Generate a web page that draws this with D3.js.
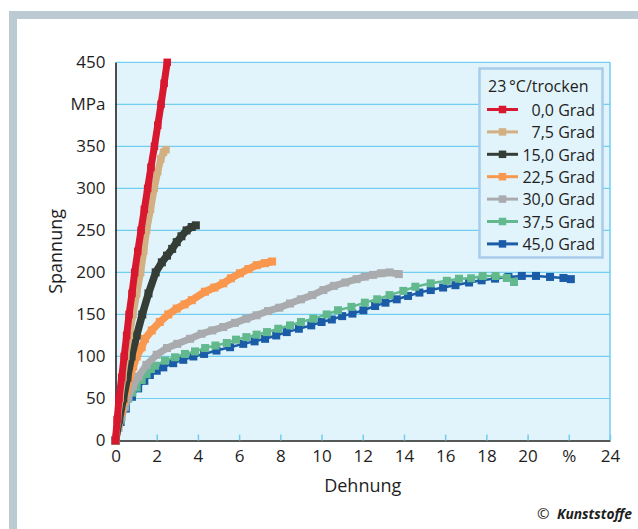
<!DOCTYPE html>
<html>
<head>
<meta charset="utf-8">
<title>Spannung-Dehnung</title>
<script src="https://cdnjs.cloudflare.com/ajax/libs/d3/7.8.5/d3.min.js"></script>
<style>
	body { margin: 0; background: #fff; }
	svg { display: block; font-family: "Open Sans", sans-serif; }
	.tick text { fill: #1e1e1e; font-size: 17px; }
</style>
</head>
<body>
<svg id="chart" width="638" height="529"></svg>
<script>

// Messkurven: [Dehnung %, Spannung MPa]
var grad00 = [[0,0],[0.08,25],[0.17,50],[0.3,75],[0.42,100],[0.54,125],[0.66,150],[0.8,175],[0.93,200],[1.08,225],[1.24,250],[1.4,275],[1.56,300],[1.72,325],[1.89,350],[2.05,375],[2.21,400],[2.36,425],[2.51,450]];
var grad75 = [[0,0],[0.1,25],[0.22,50],[0.36,75],[0.5,100],[0.67,125],[0.85,150],[1.03,175],[1.22,200],[1.37,225],[1.51,250],[1.7,275],[1.88,300],[2.05,320],[2.2,335],[2.33,343],[2.45,346]];
var grad150 = [[0,0],[0.18,25],[0.38,50],[0.58,75],[0.78,100],[1.03,125],[1.3,150],[1.6,175],[1.95,200],[2.25,212],[2.5,220],[2.75,228],[2.97,236],[3.2,243],[3.45,250],[3.7,254],[3.9,256]];
var grad225 = [[0,0],[0.15,20],[0.3,35],[0.42,48],[0.54,60],[0.7,76],[0.86,88],[1.03,100],[1.27,111],[1.43,121],[1.76,131],[2.15,141],[2.56,150],[2.97,157],[3.35,162],[3.7,167],[4.34,177],[4.8,182],[5.23,187],[5.6,193],[6.04,199],[6.45,204],[6.85,208.6],[7.25,211],[7.6,213]];
var grad300 = [[0,0],[0.15,15],[0.3,28],[0.45,40],[0.62,52],[0.85,65],[1.11,76],[1.5,90],[2.0,102],[2.5,110],[3.0,115],[3.62,121],[4.18,127],[4.7,131],[5.23,135],[5.8,140],[6.35,145],[6.85,149],[7.4,154],[7.95,158],[8.47,163],[9.0,168],[9.55,173],[10.09,179],[10.6,184],[11.15,188],[11.7,192],[12.1,195],[12.5,197],[12.9,199],[13.3,200],[13.75,198]];
var grad375 = [[0,0],[0.25,25],[0.45,40],[0.62,50],[0.82,57],[1.03,63],[1.27,72],[1.51,79],[1.72,85],[1.92,89],[2.4,95],[2.89,99],[3.37,103],[3.86,106],[4.35,110],[4.85,113],[5.4,116],[5.85,120],[6.35,123],[6.85,126],[7.35,129],[7.9,133],[8.47,137],[9.0,141],[9.6,145],[10.25,150],[10.8,155],[11.45,159],[12.1,164],[12.7,168],[13.3,173],[13.97,178],[14.55,183],[15.3,187],[16.08,190],[16.67,192.5],[17.26,193],[17.82,195.7],[18.45,195.7],[18.99,193.4],[19.34,188.6]];
var grad450 = [[0,0],[0.25,22],[0.5,38],[0.8,52],[1.1,62],[1.4,71],[1.67,78],[2.0,83],[2.32,87],[2.8,92],[3.29,96],[3.78,100],[4.3,103],[4.9,107],[5.56,111],[6.2,115],[6.75,118],[7.26,121],[7.8,125],[8.31,129],[8.9,133],[9.5,137],[10.0,141],[10.5,144],[11.0,148],[11.5,151],[12.03,155],[12.6,160],[13.1,164],[13.65,168],[14.2,172],[14.75,176],[15.3,179],[15.9,182],[16.5,184.8],[17.16,188],[17.77,190.6],[18.42,192.6],[19.07,194.6],[19.72,195.8],[20.41,195.8],[21.09,194.6],[21.74,193.4],[22.1,192]];

var seriesNames = ["0,0 Grad", "7,5 Grad", "15,0 Grad", "22,5 Grad", "30,0 Grad", "37,5 Grad", "45,0 Grad"];
var seriesData = [grad00, grad75, grad150, grad225, grad300, grad375, grad450];
var legendTitle = "23\u2009°C/trocken";

var xTicks = [0, 2, 4, 6, 8, 10, 12, 14, 16, 18, 20, 22, 24];
var xTickLabels = ["0", "2", "4", "6", "8", "10", "12", "14", "16", "18", "20", "%", "24"];
var yTicks = [0, 50, 100, 150, 200, 250, 300, 350, 400, 450];
var yTickLabels = ["0", "50", "100", "150", "200", "250", "300", "350", "MPa", "450"];

// Darstellung
var colors = ["#d7182e", "#d2b083", "#343e37", "#f9974f", "#a9abae", "#62b98e", "#1b5ca8"];
var lineWidths = [7, 7, 7.5, 7.5, 7, 2.5, 2.5];
var markerSize = [7.5, 7.5, 8, 8, 8, 8, 8];
var gridColor = "#72cdf0";

var svg = d3.select("#chart");

// Rahmen
svg.append("rect").attr("x", 9).attr("y", 11).attr("width", 629).attr("height", 518).attr("fill", "#bccbd3");
svg.append("rect").attr("x", 17).attr("y", 19).attr("width", 621).attr("height", 510).attr("fill", "#fff");

var x = d3.scaleLinear().domain([0, 24]).range([115.5, 610]);
var y = d3.scaleLinear().domain([0, 450]).range([440.5, 62.3]);

svg.append("rect")
	.attr("x", x(0)).attr("y", y(450))
	.attr("width", x(24) - x(0)).attr("height", y(0) - y(450))
	.attr("fill", "#e2f4fb");

svg.append("g").selectAll("line")
	.data(yTicks.filter(function(d) { return d > 0; }))
	.join("line")
	.attr("x1", x(0)).attr("x2", x(24))
	.attr("y1", function(d) { return y(d); }).attr("y2", function(d) { return y(d); })
	.attr("stroke", gridColor).attr("stroke-width", 1.2);

svg.append("line")
	.attr("x1", x(24)).attr("x2", x(24)).attr("y1", y(450)).attr("y2", y(0))
	.attr("stroke", gridColor).attr("stroke-width", 1.5);

// Achsen
var xAxis = svg.append("g")
	.attr("transform", "translate(0," + y(0) + ")")
	.call(d3.axisBottom(x).tickValues(xTicks)
		.tickSizeInner(-6).tickSizeOuter(0).tickPadding(9)
		.tickFormat(function(d, i) { return xTickLabels[i]; }));
xAxis.selectAll(".tick line").attr("stroke", gridColor).attr("stroke-width", 1.5);
xAxis.select(".domain").attr("stroke", "#222").attr("stroke-width", 1.6);
xAxis.selectAll(".tick text").style("font-family", "'Open Sans', sans-serif");

var yAxis = svg.append("g")
	.attr("transform", "translate(" + x(0) + ",0)")
	.call(d3.axisLeft(y).tickValues(yTicks)
		.tickSize(0).tickPadding(10)
		.tickFormat(function(d, i) { return yTickLabels[i]; }));
yAxis.select(".domain").attr("stroke", "#222").attr("stroke-width", 1.6);
yAxis.selectAll(".tick text").style("font-family", "'Open Sans', sans-serif");

svg.append("text")
	.attr("transform", "translate(62," + ((y(0) + y(450)) / 2) + ") rotate(-90)")
	.attr("text-anchor", "middle")
	.style("font-size", "18px").style("fill", "#1e1e1e")
	.text("Spannung");

svg.append("text")
	.attr("x", (x(0) + x(24)) / 2).attr("y", 492)
	.attr("text-anchor", "middle")
	.style("font-size", "18px").style("fill", "#1e1e1e")
	.text("Dehnung");

// Kurven, rote zuletzt (oben)
var line = d3.line()
	.x(function(d) { return x(d[0]); })
	.y(function(d) { return y(d[1]); });

for (var i = seriesData.length - 1; i >= 0; i--) {
	var g = svg.append("g");
	var s = markerSize[i];
	g.append("path")
		.datum(seriesData[i])
		.attr("d", line)
		.attr("fill", "none")
		.attr("stroke", colors[i])
		.attr("stroke-width", lineWidths[i])
		.attr("stroke-linejoin", "round");
	g.selectAll("rect")
		.data(seriesData[i])
		.join("rect")
		.attr("x", function(d) { return x(d[0]) - s / 2; })
		.attr("y", function(d) { return y(d[1]) - s / 2; })
		.attr("width", s).attr("height", s)
		.attr("fill", colors[i]);
}

// Legende
var legend = svg.append("g");
legend.append("rect")
	.attr("x", 479.5).attr("y", 68.5).attr("width", 123).attr("height", 189)
	.attr("fill", "#e2f4fb").attr("stroke", "#a8cbe9").attr("stroke-width", 2.5);
legend.append("text")
	.attr("x", 488).attr("y", 92)
	.style("font-size", "16px").style("fill", "#1e1e1e")
	.text(legendTitle);

seriesNames.forEach(function(name, i) {
	var ly = 109.5 + i * 22.4;
	legend.append("line")
		.attr("x1", 487).attr("x2", 518).attr("y1", ly).attr("y2", ly)
		.attr("stroke", colors[i]).attr("stroke-width", 3);
	legend.append("rect")
		.attr("x", 502.5 - 3.75).attr("y", ly - 3.75)
		.attr("width", 7.5).attr("height", 7.5)
		.attr("fill", colors[i]);
	legend.append("text")
		.attr("x", 595).attr("y", ly + 6.3)
		.attr("text-anchor", "end")
		.style("font-size", "16px").style("fill", "#1e1e1e")
		.text(name);
});

// Quelle
svg.append("text")
	.attr("x", 537).attr("y", 519)
	.style("font-size", "15px").style("fill", "#1e1e1e")
	.text("©");
svg.append("text")
	.attr("x", 557).attr("y", 519)
	.attr("textLength", 75).attr("lengthAdjust", "spacingAndGlyphs")
	.style("font-size", "15px").style("font-weight", "bold").style("font-style", "italic")
	.style("fill", "#1e1e1e")
	.text("Kunststoffe");

</script>
</body>
</html>
